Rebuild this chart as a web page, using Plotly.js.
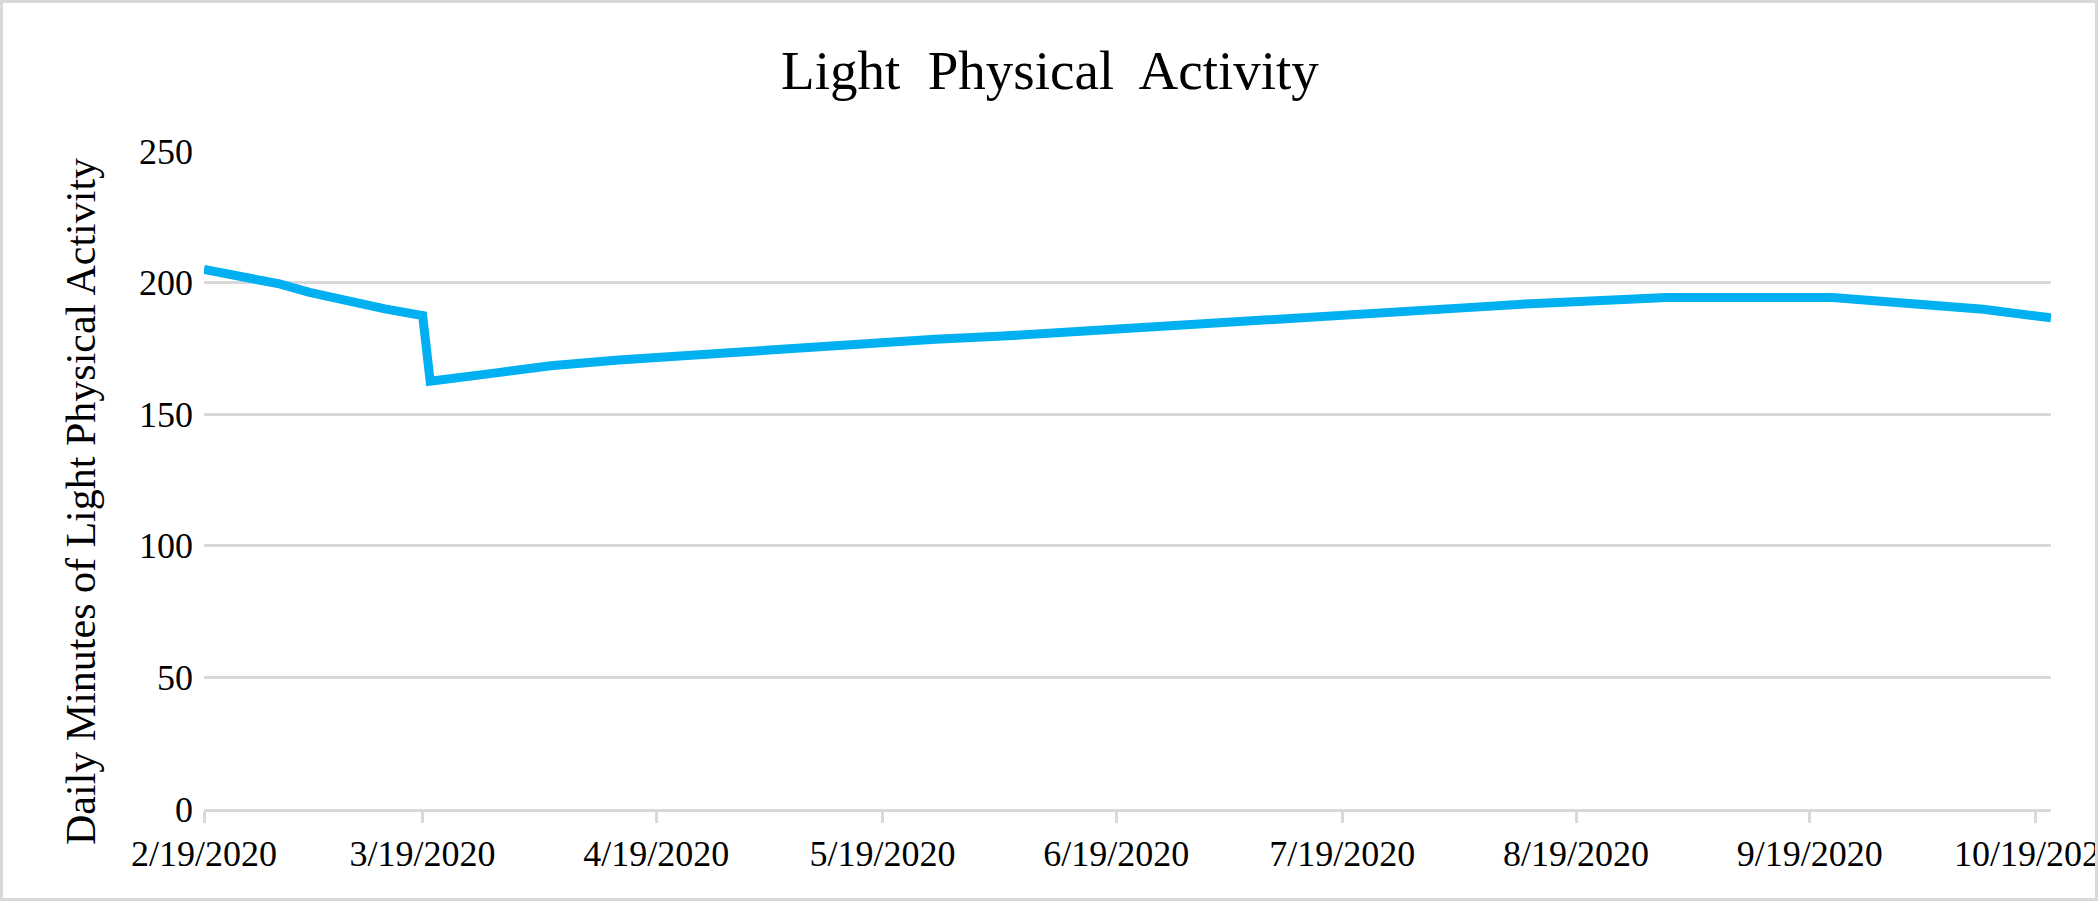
<!DOCTYPE html>
<html>
<head>
<meta charset="utf-8">
<script src="https://cdn.plot.ly/plotly-3.0.1.min.js"></script>
<style>
html, body { margin: 0; padding: 0; background: #ffffff; overflow: hidden; }
#wrap { position: relative; width: 2100px; height: 903px; overflow: hidden; }
#chart { position: absolute; left: 0; top: 0; width: 2100px; height: 903px; }
#frame { position: absolute; left: 0; top: 0; width: 2098px; height: 901px; box-sizing: border-box;
         border: 3px solid #d9d9d9; pointer-events: none; }
#edge { position: absolute; left: 2098px; top: 0; width: 2px; height: 903px; background: #ffffff; }
</style>
</head>
<body>
<div id="wrap">
  <div id="chart"></div>
  <div id="frame"></div>
  <div id="edge"></div>
</div>
<script>
// ---- data ----
const dates = [
  "2020-02-19", "2020-02-24", "2020-02-29", "2020-03-04", "2020-03-09", "2020-03-14",
  "2020-03-19", "2020-03-20", "2020-03-29", "2020-04-05", "2020-04-14", "2020-04-21",
  "2020-04-29", "2020-05-08", "2020-05-17", "2020-05-26", "2020-06-04", "2020-06-12",
  "2020-06-21", "2020-06-30", "2020-07-09", "2020-07-18", "2020-07-27", "2020-08-04",
  "2020-08-13", "2020-08-22", "2020-08-31", "2020-09-22", "2020-09-29", "2020-10-05",
  "2020-10-12", "2020-10-21"
];
const minutes = [
  205.0, 202.5, 199.5, 196.3, 193.0, 190.0,
  187.5, 162.5, 165.8, 168.4, 170.6, 171.9,
  174.0, 175.6, 177.1, 178.5, 179.7, 181.0,
  182.5, 184.2, 185.7, 187.3, 188.7, 190.4,
  192.0, 193.3, 194.3, 194.3, 193.0, 191.8,
  189.9, 186.6
];
const tickDates = [
  "2020-02-19", "2020-03-19", "2020-04-19", "2020-05-19", "2020-06-19",
  "2020-07-19", "2020-08-19", "2020-09-19", "2020-10-19"
];
const tickLabels = [
  "2/19/2020", "3/19/2020", "4/19/2020", "5/19/2020", "6/19/2020",
  "7/19/2020", "8/19/2020", "9/19/2020", "10/19/2020"
];
const yTicks = [0, 50, 100, 150, 200, 250];
const titleText = "Light\u00a0 Physical\u00a0 Activity";
const yTitleText = "Daily Minutes of Light Physical Activity";

const FONT = "'Liberation Serif', 'Times New Roman', serif";
const GRID = "#d9d9d9";

const trace = {
  type: "scatter",
  mode: "lines",
  x: dates,
  y: minutes,
  line: { color: "#00b0f0", width: 9, shape: "linear" },
  hoverinfo: "x+y"
};

const layout = {
  width: 2100,
  height: 903,
  margin: { l: 204, r: 49, t: 151, b: 94, pad: 0 },
  paper_bgcolor: "#ffffff",
  plot_bgcolor: "#ffffff",
  showlegend: false,
  font: { family: FONT, color: "#000000", size: 36 },
  title: {
    text: titleText,
    font: { family: FONT, size: 55, color: "#000000" },
    xref: "container",
    x: 0.5,
    xanchor: "center",
    yref: "container",
    y: 1 - 70 / 903,
    yanchor: "middle"
  },
  xaxis: {
    type: "date",
    range: ["2020-02-19", "2020-10-21"],
    tickmode: "array",
    tickvals: tickDates,
    ticktext: tickLabels,
    ticks: "outside",
    ticklen: 11,
    tickwidth: 3,
    tickcolor: GRID,
    showgrid: false,
    showline: true,
    linecolor: GRID,
    linewidth: 3,
    zeroline: false,
    ticklabeloverflow: "allow",
    tickfont: { family: FONT, size: 36, color: "#000000" },
    automargin: false,
    fixedrange: true
  },
  yaxis: {
    range: [0, 250],
    tickmode: "array",
    tickvals: yTicks,
    ticks: "",
    showgrid: true,
    gridcolor: GRID,
    gridwidth: 3,
    zeroline: false,
    showline: false,
    tickfont: { family: FONT, size: 36, color: "#000000" },
    ticklabelstandoff: 10,
    automargin: false,
    fixedrange: true
  },
  annotations: [{
    text: yTitleText,
    xref: "paper", yref: "paper",
    x: (81 - 204) / 1847,
    y: (809 - 502) / 658,
    xanchor: "center", yanchor: "middle",
    textangle: -90,
    showarrow: false,
    font: { family: FONT, size: 42, color: "#000000" }
  }]
};

Plotly.newPlot("chart", [trace], layout, { displayModeBar: false, staticPlot: true });
</script>
</body>
</html>
